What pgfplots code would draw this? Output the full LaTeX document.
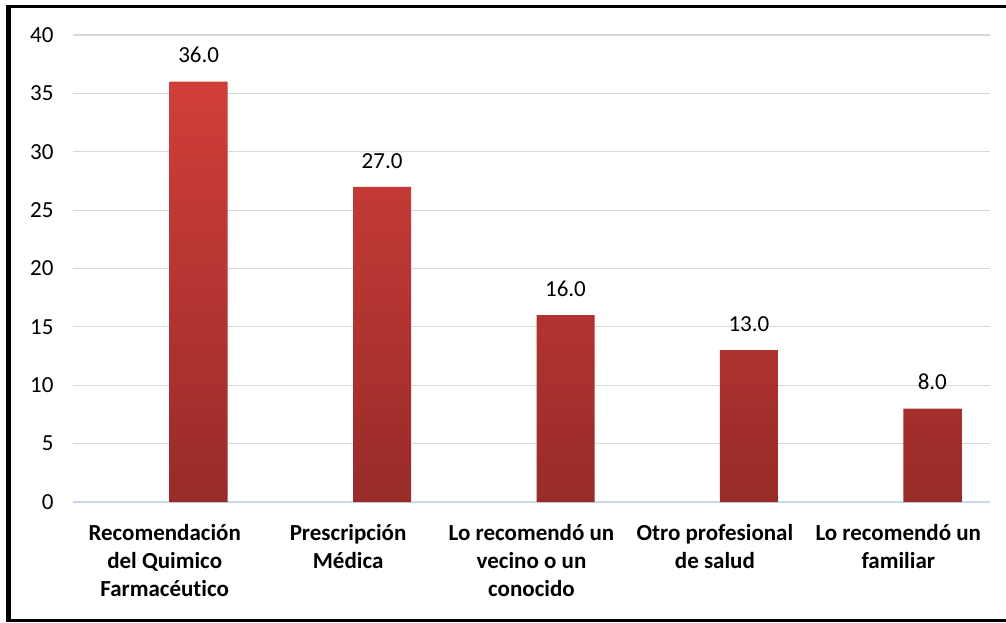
\documentclass[border=0pt]{standalone}
\usepackage{fontspec}
\setmainfont{Carlito}[Ligatures=NoCommon]
\usepackage{pgfplots}
\pgfplotsset{compat=1.18}
\definecolor{bartop}{RGB}{209,62,58}
\definecolor{barbot}{RGB}{152,43,41}
\definecolor{gridc}{RGB}{217,217,217}
\definecolor{basec}{RGB}{200,216,236}
\begin{document}
\begin{tikzpicture}[x=1pt,y=1pt]
\useasboundingbox (0,0) rectangle (1006,622);
\fill[white] (0,0) rectangle (1006,622);
\begin{axis}[
    at={(73pt,120pt)}, anchor=south west,
    scale only axis, width=917pt, height=467pt,
    ymin=0, ymax=40, ytick={0,5,...,40},
    xmin=-0.5, xmax=4.5, xtick={0,...,4},
    xticklabels={{Recomendación\\del Quimico\\Farmacéutico},
                 {Prescripción\\Médica},
                 {Lo recomendó un\\vecino o un\\conocido},
                 {Otro profesional\\de salud},
                 {Lo recomendó un\\familiar}},
    axis x line*=bottom, axis y line*=left,
    x axis line style={draw=basec, line width=1.2pt, -},
    y axis line style={draw=none},
    major tick length=0pt,
    ymajorgrids, grid style={draw=gridc, line width=1.2pt},
    /pgf/number format/assume math mode=true,
    yticklabel style={font=\fontsize{23}{28}\selectfont, xshift=-16pt},
    xticklabel style={font=\bfseries\fontsize{23}{28}\selectfont, align=center, yshift=-19pt},
    ybar, bar width=58pt, bar shift=34pt,
    nodes near coords,
    nodes near coords style={font=\fontsize{23}{28}\selectfont, yshift=15pt,
        /pgf/number format/.cd, fixed, fixed zerofill, precision=1, assume math mode=true},
]
\addplot[draw=none, top color=bartop, bottom color=barbot] coordinates {
    (0,36) (1,27) (2,16) (3,13) (4,8)
};
\end{axis}
\fill[black] (6,0) rectangle (11,617);
\fill[black] (6,614) rectangle (1006,617);
\fill[black] (6,0) rectangle (1006,2.7);
\end{tikzpicture}
\end{document}
